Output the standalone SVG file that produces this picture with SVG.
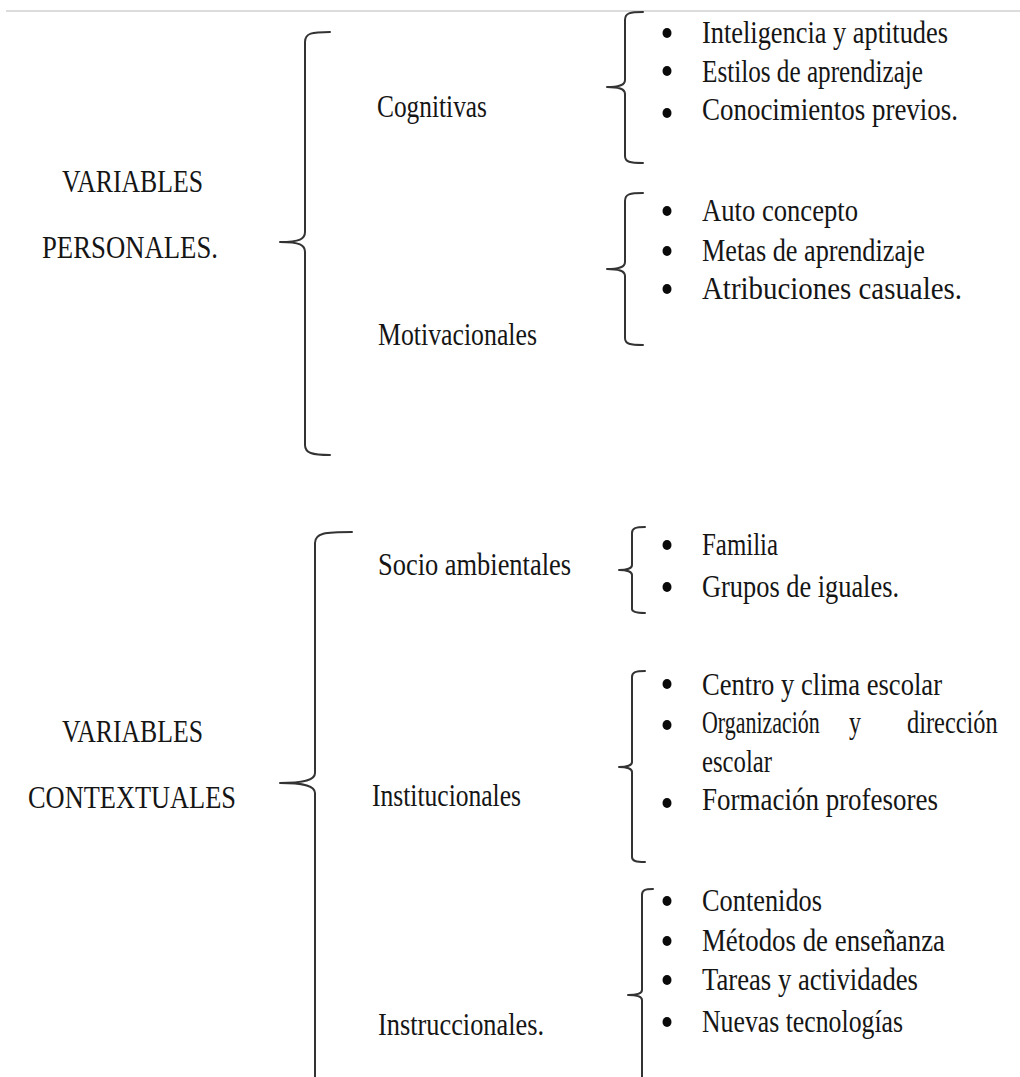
<svg xmlns="http://www.w3.org/2000/svg" width="1020" height="1077" viewBox="0 0 1020 1077">
<style>
.t{font-family:"Liberation Serif","Times New Roman",serif;font-size:32px;fill:#151515}
.b{fill:none;stroke:#333;stroke-width:2;stroke-linecap:round;stroke-linejoin:round}
.d{fill:#0a0a0a}
</style>
<rect width="1020" height="1077" fill="#fff"/>
<line x1="6" y1="11" x2="1020" y2="11" stroke="#d0d0d0" stroke-width="1.5"/>
<g id="connectors">
<path class="b" d="M330,32 C312,32 305,33 305,42 L305,232 C305,239 300,242 280,242 C300,242 305,245 305,252 L305,445 C305,453 312,455 330,455"/>
<path class="b" d="M643,12 C630,12 625,13 625,20 L625,80 C625,85 620,87 607,87 C620,87 625,89 625,94 L625,156 C625,162 630,163 643,163"/>
<path class="b" d="M643,193 C630,193 625,194 625,201 L625,262 C625,267 620,269 607,269 C620,269 625,271 625,276 L625,338 C625,344 630,345 643,345"/>
<path class="b" d="M352,532 C325,532 315,533 315,543 L315,773 C315,780 305,783 280,783 C305,783 315,786 315,793 L315,1090"/>
<path class="b" d="M645,527 C636,527 632,528 632,533 L632,565 C632,568 627,570 619,570 C627,570 632,572 632,575 L632,609 C632,612 636,613 645,613"/>
<path class="b" d="M645,671 C636,671 632,672 632,677 L632,762 C632,765 627,767 619,767 C627,767 632,769 632,772 L632,857 C632,861 636,862 645,862"/>
<path class="b" d="M653,889 C645,889 642,890 642,895 L642,990 C642,993 637,995 628,995 C637,995 642,997 642,1000 L642,1090"/>
</g>
<g id="personales">
<text class="t" x="62" y="192" textLength="141" lengthAdjust="spacingAndGlyphs">VARIABLES</text>
<text class="t" x="42" y="258" textLength="176" lengthAdjust="spacingAndGlyphs">PERSONALES.</text>
</g>
<g id="cognitivas"><text class="t" x="377" y="117" textLength="110" lengthAdjust="spacingAndGlyphs">Cognitivas</text></g>
<g id="motivacionales"><text class="t" x="378" y="345" textLength="159" lengthAdjust="spacingAndGlyphs">Motivacionales</text></g>
<g id="cog-items">
<ellipse class="d" cx="667" cy="33" rx="4.5" ry="5"/>
<ellipse class="d" cx="667" cy="71" rx="4.5" ry="5"/>
<ellipse class="d" cx="667" cy="113" rx="4.5" ry="5"/>
<text class="t" x="702" y="43" textLength="246" lengthAdjust="spacingAndGlyphs">Inteligencia  y aptitudes</text>
<text class="t" x="702" y="82" textLength="221" lengthAdjust="spacingAndGlyphs">Estilos  de aprendizaje</text>
<text class="t" x="702" y="120" textLength="256" lengthAdjust="spacingAndGlyphs">Conocimientos  previos.</text>
</g>
<g id="mot-items">
<ellipse class="d" cx="667" cy="211" rx="4.5" ry="5"/>
<ellipse class="d" cx="667" cy="251" rx="4.5" ry="5"/>
<ellipse class="d" cx="667" cy="289" rx="4.5" ry="5"/>
<text class="t" x="702" y="221" textLength="156" lengthAdjust="spacingAndGlyphs">Auto concepto</text>
<text class="t" x="702" y="261" textLength="223" lengthAdjust="spacingAndGlyphs">Metas de aprendizaje</text>
<text class="t" x="702" y="299" textLength="260" lengthAdjust="spacingAndGlyphs">Atribuciones  casuales.</text>
</g>
<g id="contextuales">
<text class="t" x="62" y="742" textLength="141" lengthAdjust="spacingAndGlyphs">VARIABLES</text>
<text class="t" x="28" y="808" textLength="208" lengthAdjust="spacingAndGlyphs">CONTEXTUALES</text>
</g>
<g id="socio"><text class="t" x="378" y="575" textLength="193" lengthAdjust="spacingAndGlyphs">Socio ambientales</text></g>
<g id="institucionales"><text class="t" x="372" y="806" textLength="149" lengthAdjust="spacingAndGlyphs">Institucionales</text></g>
<g id="instruccionales"><text class="t" x="378" y="1035" textLength="166" lengthAdjust="spacingAndGlyphs">Instruccionales.</text></g>
<g id="socio-items">
<ellipse class="d" cx="667" cy="545" rx="4.5" ry="5"/>
<ellipse class="d" cx="667" cy="587" rx="4.5" ry="5"/>
<text class="t" x="702" y="555" textLength="76" lengthAdjust="spacingAndGlyphs">Familia</text>
<text class="t" x="702" y="597" textLength="197" lengthAdjust="spacingAndGlyphs">Grupos de iguales.</text>
</g>
<g id="inst-items">
<ellipse class="d" cx="667" cy="684" rx="4.5" ry="5"/>
<ellipse class="d" cx="667" cy="725" rx="4.5" ry="5"/>
<ellipse class="d" cx="667" cy="803" rx="4.5" ry="5"/>
<text class="t" x="702" y="695" textLength="240" lengthAdjust="spacingAndGlyphs">Centro y  clima  escolar</text>
<text class="t" transform="translate(702,733) scale(0.75,1)" x="0" y="0" textLength="157" lengthAdjust="spacingAndGlyphs">Organización</text>
<text class="t" transform="translate(849,733) scale(0.75,1)" x="0" y="0" textLength="16" lengthAdjust="spacingAndGlyphs">y</text>
<text class="t" transform="translate(907,733) scale(0.75,1)" x="0" y="0" textLength="121" lengthAdjust="spacingAndGlyphs">dirección</text>
<text class="t" x="702" y="772" textLength="70" lengthAdjust="spacingAndGlyphs">escolar</text>
<text class="t" x="702" y="810" textLength="236" lengthAdjust="spacingAndGlyphs">Formación  profesores</text>
</g>
<g id="instr-items">
<ellipse class="d" cx="667" cy="901" rx="4.5" ry="5"/>
<ellipse class="d" cx="667" cy="941" rx="4.5" ry="5"/>
<ellipse class="d" cx="667" cy="980" rx="4.5" ry="5"/>
<ellipse class="d" cx="667" cy="1022" rx="4.5" ry="5"/>
<text class="t" x="702" y="911" textLength="120" lengthAdjust="spacingAndGlyphs">Contenidos</text>
<text class="t" x="702" y="951" textLength="243" lengthAdjust="spacingAndGlyphs">Métodos de enseñanza</text>
<text class="t" x="702" y="990" textLength="216" lengthAdjust="spacingAndGlyphs">Tareas y actividades</text>
<text class="t" x="702" y="1032" textLength="201" lengthAdjust="spacingAndGlyphs">Nuevas tecnologías</text>
</g>
</svg>
